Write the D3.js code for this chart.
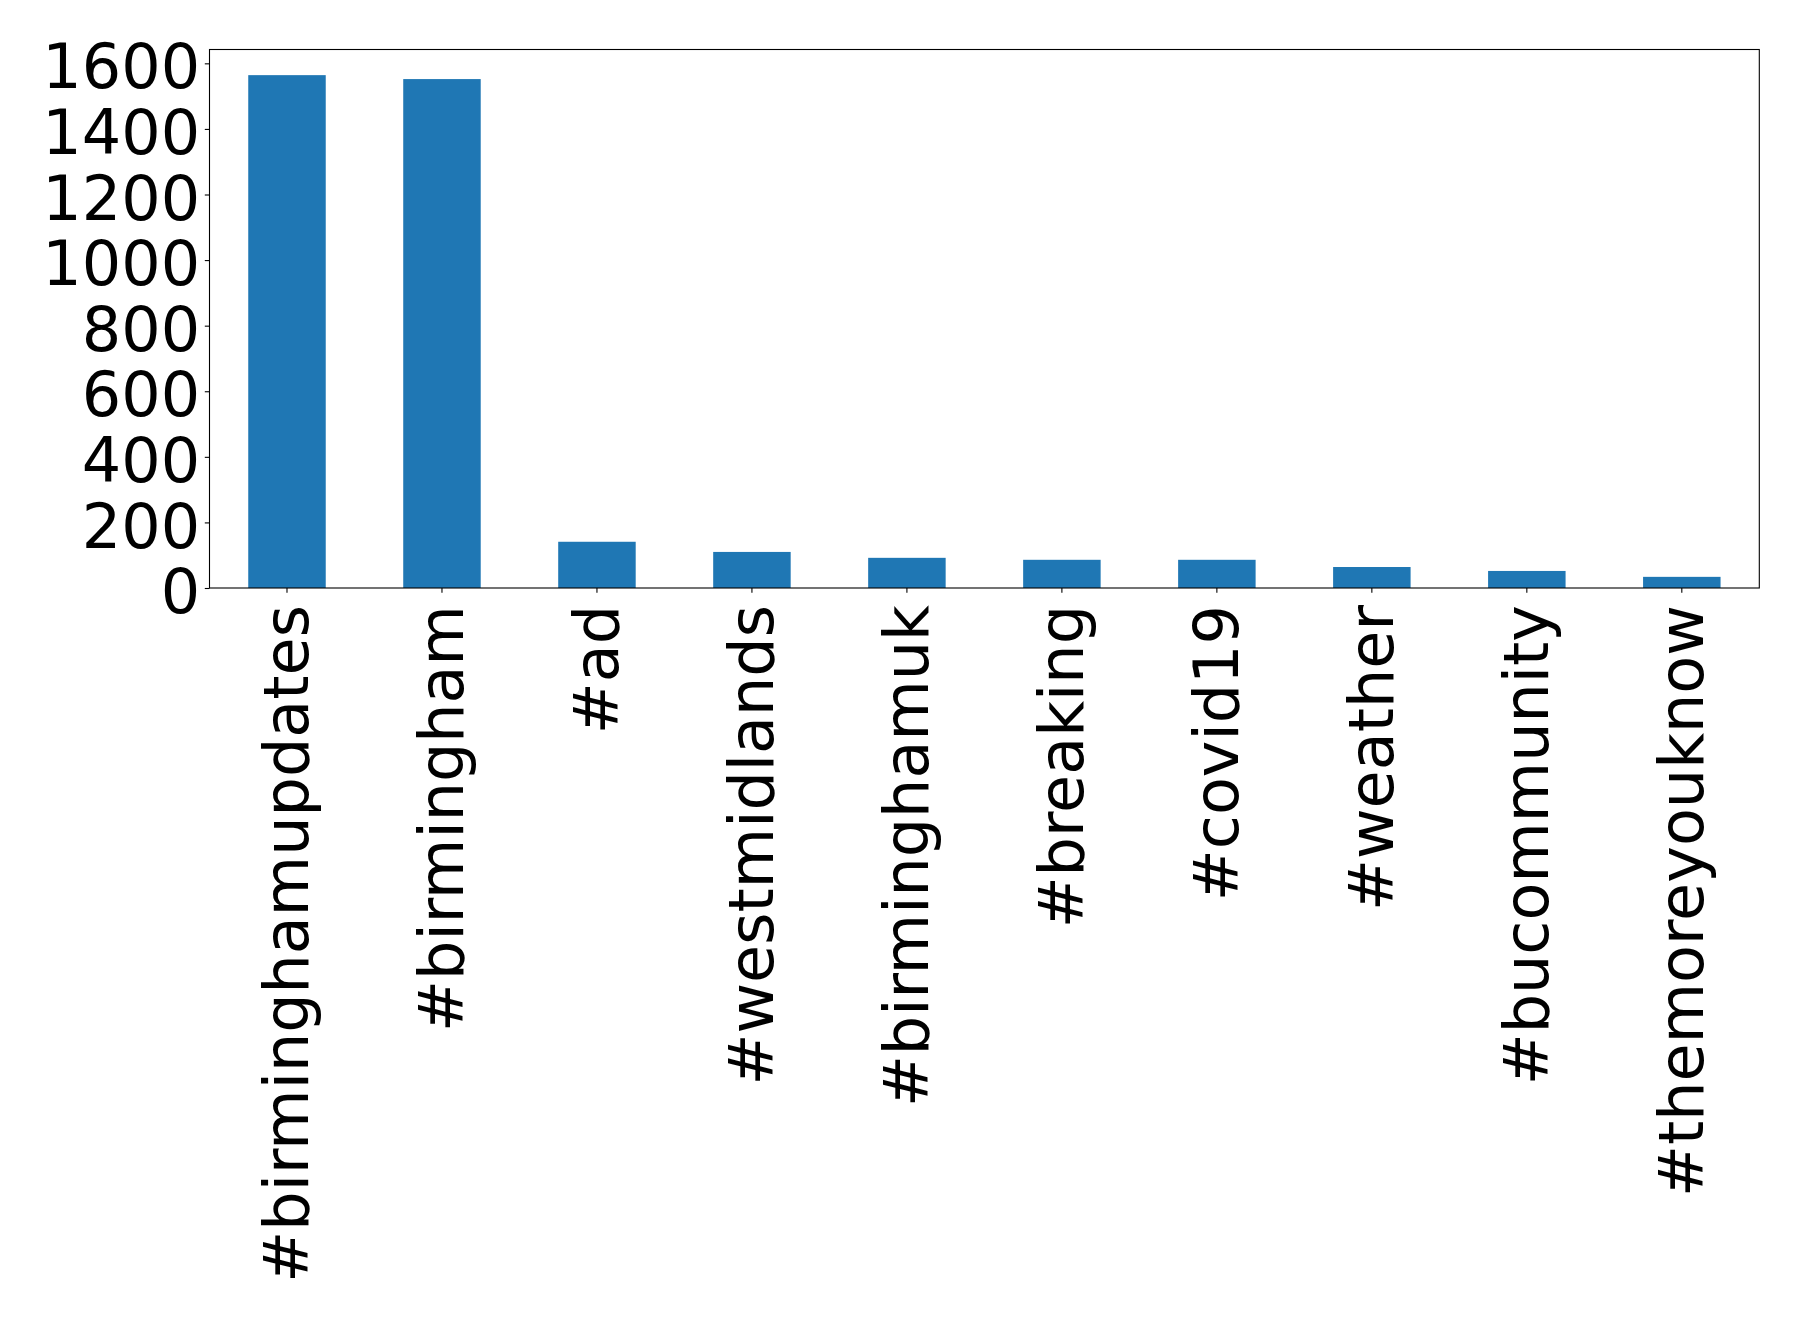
<!DOCTYPE html>
<html>
<head>
<meta charset="utf-8">
<script src="https://cdn.jsdelivr.net/npm/d3@7"></script>
<style>
  html, body { margin: 0; padding: 0; background: #fff; }
  svg { display: block; }
</style>
</head>
<body>
<script>
const categories = ["#birminghamupdates", "#birmingham", "#ad", "#westmidlands", "#birminghamuk",
                    "#breaking", "#covid19", "#weather", "#bucommunity", "#themoreyouknow"];
const counts = [1564, 1552, 141, 110, 92, 86, 86, 64, 52, 34];
const yTicks = [0, 200, 400, 600, 800, 1000, 1200, 1400, 1600];

(function () {
const W = 1798, H = 1320;
const pLeft = 209.5, pRight = 1759.3, pTop = 49.5, pBottom = 588;
const fs = 62;
const font = "'DejaVu Sans', sans-serif";

const svg = d3.select("body").append("svg").attr("width", W).attr("height", H);

const x = d3.scaleBand().domain(categories).range([pLeft, pRight]).paddingInner(0.5).paddingOuter(0.25);
const y = d3.scaleLinear().domain([0, d3.max(counts) * 1.05]).range([pBottom, pTop]);

svg.append("g").selectAll("rect").data(categories).join("rect")
  .attr("x", d => x(d))
  .attr("width", x.bandwidth())
  .attr("y", (d, i) => y(counts[i]))
  .attr("height", (d, i) => y(0) - y(counts[i]))
  .attr("fill", "#1f77b4");

// Y axis
const yAxis = d3.axisLeft(y).tickValues(yTicks).tickSize(4.7).tickPadding(4.7).tickFormat(d3.format("d"));
const gy = svg.append("g").attr("transform", `translate(${pLeft},0)`).call(yAxis);
gy.select(".domain").remove();
gy.selectAll(".tick line").attr("stroke", "#000").attr("stroke-width", 1.1);
gy.selectAll(".tick text").attr("font-family", font).attr("font-size", fs).attr("fill", "#000")
  .attr("dy", "0.397em");

// X axis
const xAxis = d3.axisBottom(x).tickSize(4.7).tickPadding(0);
const gx = svg.append("g").attr("transform", `translate(0,${pBottom})`).call(xAxis);
gx.select(".domain").remove();
gx.selectAll(".tick line").attr("stroke", "#000").attr("stroke-width", 1.1);
gx.selectAll(".tick text")
  .attr("font-family", font).attr("font-size", fs).attr("fill", "#000")
  .attr("text-anchor", "end")
  .attr("dy", null)
  .attr("y", null).attr("x", null)
  .attr("transform", `translate(${0.346 * fs},17) rotate(-90)`);

// Frame
svg.append("rect").attr("x", pLeft).attr("y", pTop).attr("width", pRight - pLeft).attr("height", pBottom - pTop)
  .attr("fill", "none").attr("stroke", "#000").attr("stroke-width", 1.1);
})();
</script>
</body>
</html>
